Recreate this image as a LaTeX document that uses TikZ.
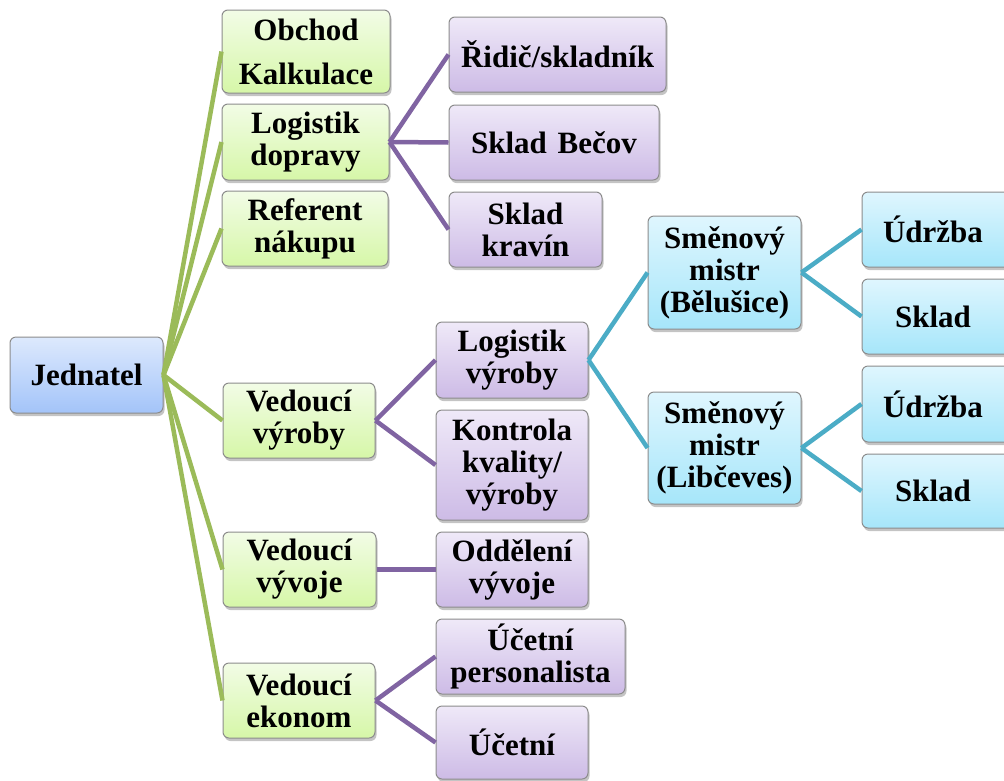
\documentclass[tikz,border=0pt]{standalone}
\usepackage{fontspec}
\newfontfamily\tnr{Liberation Serif}[BoldFont={Liberation Serif Bold}]
\definecolor{greenTop}{HTML}{F2FCE6}
\definecolor{greenBot}{HTML}{D6F7A8}
\definecolor{blueTop}{HTML}{DDE9FD}
\definecolor{blueBot}{HTML}{A3C4F9}
\definecolor{purTop}{HTML}{EFE9F8}
\definecolor{purBot}{HTML}{CDBBE6}
\definecolor{cyanTop}{HTML}{DFF6FE}
\definecolor{cyanBot}{HTML}{A6E6FA}
\definecolor{lnGreen}{HTML}{9BBB59}
\definecolor{lnPurple}{HTML}{8064A2}
\definecolor{lnCyan}{HTML}{4BACC6}
\definecolor{boxBorder}{HTML}{8C8C8C}
\definecolor{shadowGray}{HTML}{C4C4C4}
\tikzset{
  bxbase/.style={draw=boxBorder, line width=1pt, rounded corners=6pt, inner sep=0pt},
  bxtext/.style={align=center, inner sep=0pt, font=\fontsize{31}{32}\selectfont\tnr\bfseries},
  bxshadow/.style={fill=shadowGray, rounded corners=6pt},
  bxgreen/.style={bxbase, top color=greenTop, bottom color=greenBot},
  bxblue/.style={bxbase, top color=blueTop, bottom color=blueBot},
  bxpurple/.style={bxbase, top color=purTop, bottom color=purBot},
  bxcyan/.style={bxbase, top color=cyanTop, bottom color=cyanBot},
  lngreen/.style={draw=lnGreen, line width=4.5pt},
  lnpurple/.style={draw=lnPurple, line width=4.5pt},
  lncyan/.style={draw=lnCyan, line width=4.5pt}
}
\newcommand\boxnode[7]{%
  \fill[bxshadow] ({#3+1.5},{#4+3}) rectangle ({#5+1.5},{#6+3});
  \node[#2, minimum width={#5-#3}, minimum height={#6-#4}] (#1) at ({(#3+#5)/2},{(#4+#6)/2}) {};}
\newcommand\boxtext[2]{\node[bxtext] (#1t) at (#1.center) {#2};}
\begin{document}
\begin{tikzpicture}[x=1pt,y=-1pt]
\useasboundingbox (0,0) rectangle (1004,780);
\boxnode{jed}{bxblue}{10}{337}{163}{413}{}
\boxnode{obch}{bxgreen}{222}{10}{390}{93}{}
\boxnode{logd}{bxgreen}{222}{104}{389}{180}{}
\boxnode{ref}{bxgreen}{222}{191}{388}{266}{}
\boxnode{vyr}{bxgreen}{223}{383}{375}{458}{}
\boxnode{vyv}{bxgreen}{223}{532}{376}{607}{}
\boxnode{eko}{bxgreen}{223}{663}{375}{738}{}
\boxnode{rid}{bxpurple}{449}{17}{666}{92}{}
\boxnode{bec}{bxpurple}{449}{105}{659}{180}{}
\boxnode{kra}{bxpurple}{449}{192}{602}{267}{}
\boxnode{logv}{bxpurple}{436}{322}{588}{398}{}
\boxnode{kon}{bxpurple}{436}{410}{588}{520}{}
\boxnode{odd}{bxpurple}{436}{532}{588}{607}{}
\boxnode{ucp}{bxpurple}{436}{619}{625}{694}{}
\boxnode{uce}{bxpurple}{436}{706}{588}{779}{}
\boxnode{bel}{bxcyan}{648}{216}{801}{329}{}
\boxnode{lib}{bxcyan}{648}{392}{801}{504}{}
\boxnode{udA}{bxcyan}{862}{192}{1012}{267}{}
\boxnode{skA}{bxcyan}{862}{279}{1012}{354}{}
\boxnode{udB}{bxcyan}{862}{366}{1012}{442}{}
\boxnode{skB}{bxcyan}{862}{454}{1012}{528}{}
\foreach \c in {obch,logd,ref,vyr,vyv,eko}
  \draw[lngreen] (jed.east) -- (\c.west);
\foreach \c in {rid,bec,kra}
  \draw[lnpurple] (logd.east) -- (\c.west);
\foreach \c in {logv,kon}
  \draw[lnpurple] (vyr.east) -- (\c.west);
\draw[lnpurple] (vyv.east) -- (odd.west);
\foreach \c in {ucp,uce}
  \draw[lnpurple] (eko.east) -- (\c.west);
\foreach \c in {bel,lib}
  \draw[lncyan] (logv.east) -- (\c.west);
\foreach \c in {udA,skA}
  \draw[lncyan] (bel.east) -- (\c.west);
\foreach \c in {udB,skB}
  \draw[lncyan] (lib.east) -- (\c.west);
\boxtext{jed}{Jednatel}
\boxtext{obch}{Obchod\\[12pt]Kalkulace}
\boxtext{logd}{Logistik\\dopravy}
\boxtext{ref}{Referent\\nákupu}
\boxtext{vyr}{Vedoucí\\výroby}
\boxtext{vyv}{Vedoucí\\vývoje}
\boxtext{eko}{Vedoucí\\ekonom}
\boxtext{rid}{Řidič/skladník}
\boxtext{bec}{Sklad\hspace{0.35em}Bečov}
\boxtext{kra}{Sklad\\kravín}
\boxtext{logv}{Logistik\\výroby}
\boxtext{kon}{Kontrola\\kvality/\\výroby}
\boxtext{odd}{Oddělení\\vývoje}
\boxtext{ucp}{Účetní\\personalista}
\boxtext{uce}{Účetní}
\boxtext{bel}{Směnový\\mistr\\(Bělušice)}
\boxtext{lib}{Směnový\\mistr\\(Libčeves)}
\boxtext{udA}{\hspace*{-8pt}Údržba}
\boxtext{skA}{\hspace*{-8pt}Sklad}
\boxtext{udB}{\hspace*{-8pt}Údržba}
\boxtext{skB}{\hspace*{-8pt}Sklad}
\end{tikzpicture}
\end{document}
